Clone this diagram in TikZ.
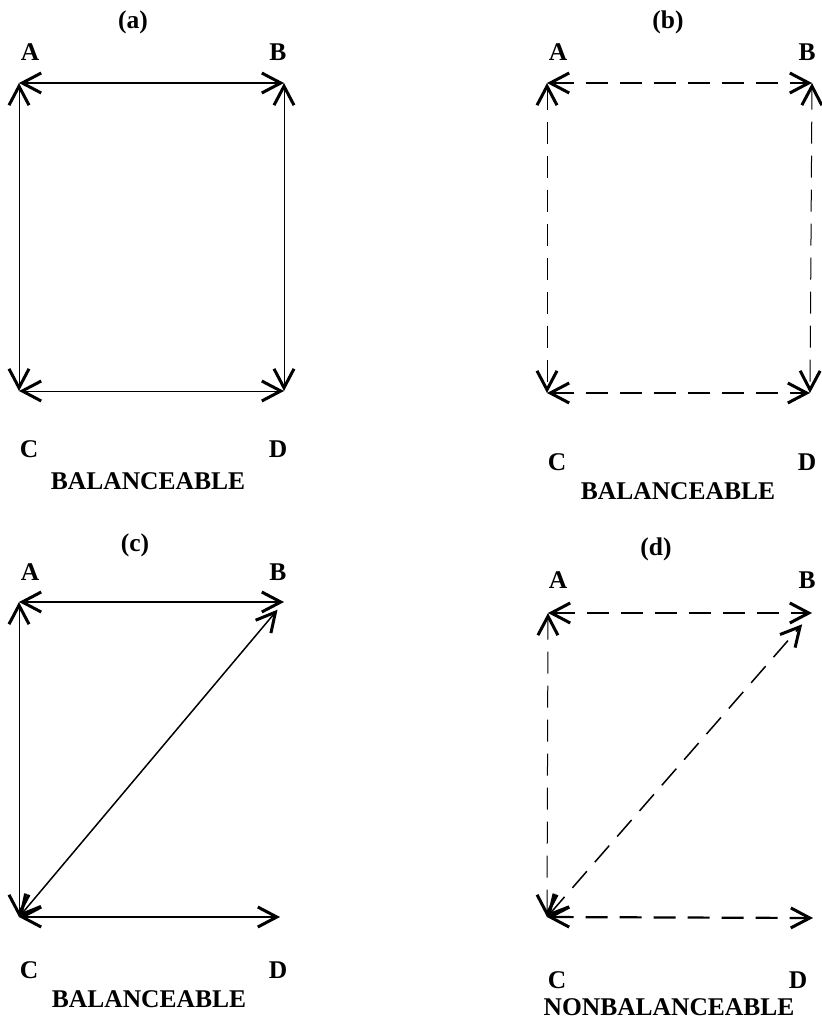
\documentclass[tikz,border=0pt]{standalone}
\usepackage{fontspec}
\setmainfont{Liberation Serif}
\usetikzlibrary{arrows.meta}
\tikzset{
  >={Straight Barb[length=19pt,width=20pt,line width=3pt]},
  thinedge/.style={<->,line width=1pt},
  midedge/.style={<->,line width=1.5pt},
  thickedge/.style={<->,line width=2.2pt},
  dashedge/.style={dash pattern=on 22pt off 12pt},
  lbl/.style={font=\bfseries\fontsize{25.5}{30}\selectfont,inner sep=0pt},
}

\begin{document}
\begin{tikzpicture}[x=1pt,y=-1pt]
\useasboundingbox (0,0) rectangle (822,1026);

% (a)
\coordinate (aA) at (19,83);
\coordinate (aB) at (284,83);
\coordinate (aC) at (19,391);
\coordinate (aD) at (284,391);
\node[lbl] (atitle) at (133,22) {(a)};
\node[lbl] (alA) at (30,52) {A};
\node[lbl] (alB) at (278,52) {B};
\node[lbl] (alC) at (29,449) {C};
\node[lbl] (alD) at (278,449) {D};
\node[lbl] (abal) at (148,481) {BALANCEABLE};
\draw[thickedge] (aA) -- (aB);
\draw[thinedge] (aA) -- (aC);
\draw[thinedge] (aB) -- (aD);
\draw[thinedge] (aC) -- (aD);

% (b)
\coordinate (bA) at (547,83);
\coordinate (bB) at (812,83);
\coordinate (bC) at (547,393);
\coordinate (bD) at (810,393);
\node[lbl] (btitle) at (668,22) {(b)};
\node[lbl] (blA) at (558,52) {A};
\node[lbl] (blB) at (807,52) {B};
\node[lbl] (blC) at (557,462) {C};
\node[lbl] (blD) at (807,462) {D};
\node[lbl] (bbal) at (678,491) {BALANCEABLE};
\draw[thickedge,dashedge] (bA) -- (bB);
\draw[thinedge,dashedge] (bA) -- (bC);
\draw[thinedge,dashedge] (bB) -- (bD);
\draw[thickedge,dashedge] (bC) -- (bD);

% (c)
\coordinate (cA) at (19,602);
\coordinate (cB) at (284,602);
\coordinate (cC) at (19,917);
\coordinate (cD) at (280,917);
\node[lbl] (ctitle) at (135,545) {(c)};
\node[lbl] (clA) at (30,572) {A};
\node[lbl] (clB) at (278,572) {B};
\node[lbl] (clC) at (29,970) {C};
\node[lbl] (clD) at (278,970) {D};
\node[lbl] (cbal) at (149,999) {BALANCEABLE};
\draw[thickedge] (cA) -- (cB);
\draw[thinedge] (cA) -- (cC);
\draw[midedge,shorten >=10pt] (cC) -- (cB);
\draw[thickedge] (cC) -- (cD);

% (d)
\coordinate (dA) at (548,613);
\coordinate (dB) at (812,613);
\coordinate (dC) at (547,917);
\coordinate (dD) at (813,918);
\node[lbl] (dtitle) at (656,549) {(d)};
\node[lbl] (dlA) at (558,580) {A};
\node[lbl] (dlB) at (807,580) {B};
\node[lbl] (dlC) at (557,980) {C};
\node[lbl] (dlD) at (798,980) {D};
\node[lbl] (dbal) at (669,1007) {NONBALANCEABLE};
\draw[midedge,dashedge] (dA) -- (dB);
\draw[thinedge,dashedge] (dA) -- (dC);
\draw[midedge,dashedge,shorten >=15pt] (dC) -- (dB);
\draw[thickedge,dashedge] (dC) -- (dD);

\end{tikzpicture}
\end{document}
